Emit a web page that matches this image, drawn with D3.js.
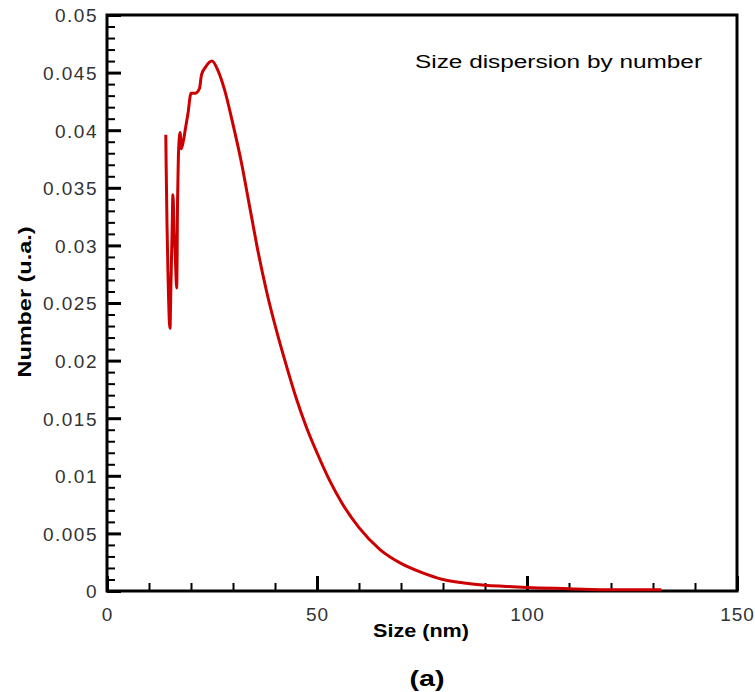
<!DOCTYPE html>
<html>
<head>
<meta charset="utf-8">
<script src="https://cdn.jsdelivr.net/npm/d3@7"></script>
<style>
  body { margin: 0; background: #fff; }
  svg text { font-family: Arial, "Liberation Sans", sans-serif; }
</style>
</head>
<body>
<svg id="chart" width="755" height="692"></svg>
<script>
// values
const sizes = [14.0, 14.1, 14.3, 14.5, 15.0, 15.2, 15.5, 15.7, 16.0, 16.2, 16.6, 16.8, 17.0, 17.4,
  17.7, 18.2, 18.7, 19.3, 20.0, 21.0, 22.0, 22.5, 23.5, 25.0, 26.4, 28.0, 30.0, 32.0, 34.0, 36.0,
  38.0, 40.5, 43.0, 45.0, 47.5, 50.0, 53.0, 56.0, 60.0, 65.0, 70.0, 75.0, 80.0, 85.0, 90.0, 95.0,
  100.0, 110.0, 120.0, 132.0];
const numbers = [0.0396, 0.0365, 0.0316, 0.0279, 0.0228, 0.0261, 0.0313, 0.0344, 0.0309, 0.0296,
  0.0263, 0.0339, 0.0378, 0.0398, 0.0384, 0.0391, 0.0402, 0.0415, 0.0432, 0.0432, 0.0436, 0.0448,
  0.0455, 0.0460, 0.0452, 0.0435, 0.0405, 0.0372, 0.0333, 0.0294, 0.0260, 0.0224, 0.0192, 0.0168,
  0.0142, 0.0120, 0.0096, 0.0076, 0.0055, 0.0036, 0.0024, 0.0016, 0.0010, 0.0007, 0.0005, 0.0004,
  0.0003, 0.0002, 0.0001, 0.0001];

const xMajor = [0, 50, 100, 150];
const xLabels = ["0", "50", "100", "150"];
const yMajor = [0, 0.005, 0.01, 0.015, 0.02, 0.025, 0.03, 0.035, 0.04, 0.045, 0.05];
const yLabels = ["0", "0.005", "0.01", "0.015", "0.02", "0.025", "0.03", "0.035", "0.04", "0.045", "0.05"];

const margin = {top: 15, right: 18, bottom: 101, left: 107};
const W = 755, H = 692;
const width = W - margin.left - margin.right,
      height = H - margin.top - margin.bottom;

const svg = d3.select("#chart");
const g = svg.append("g").attr("transform", `translate(${margin.left},${margin.top})`);

const x = d3.scaleLinear().domain([0, 150]).range([0, width]);
const y = d3.scaleLinear().domain([0, 0.05]).range([height, 0]);

// minor ticks
const xMinor = d3.range(0, 151, 10).filter(v => v % 50 !== 0);
const yMinor = d3.range(0, 51, 1).map(v => v / 1000).filter((v, i) => i % 5 !== 0);

function styleAxis(sel, w) {
  sel.select(".domain").remove();
  sel.selectAll(".tick line").attr("stroke", "#000").attr("stroke-width", w);
}

g.append("g").attr("transform", `translate(0,${height})`)
  .call(d3.axisBottom(x).tickValues(xMinor).tickSize(-8).tickFormat(""))
  .call(s => styleAxis(s, 2));
g.append("g")
  .call(d3.axisLeft(y).tickValues(yMinor).tickSize(-8).tickFormat(""))
  .call(s => styleAxis(s, 2));

g.append("g").attr("transform", `translate(0,${height})`)
  .call(d3.axisBottom(x).tickValues(xMajor).tickSize(-15).tickPadding(0)
    .tickFormat((d, i) => xLabels[i]))
  .call(s => styleAxis(s, 3))
  .call(s => s.selectAll("text")
    .attr("y", 30).attr("dy", 0)
    .attr("fill", "#333").style("font-size", "19px").style("letter-spacing", "1px"));

g.append("g")
  .call(d3.axisLeft(y).tickValues(yMajor).tickSize(-14).tickPadding(0)
    .tickFormat((d, i) => yLabels[i]))
  .call(s => styleAxis(s, 3))
  .call(s => s.selectAll("text")
    .attr("x", -9).attr("dy", "0.36em")
    .attr("fill", "#333").style("font-size", "19px").style("letter-spacing", "1.5px"));

// frame
g.append("rect").attr("x", 0).attr("y", 0).attr("width", width).attr("height", height)
  .attr("fill", "none").attr("stroke", "#000").attr("stroke-width", 3);

// curve
const line = d3.line().x((d, i) => x(sizes[i])).y(d => y(d)).curve(d3.curveMonotoneX);
g.append("path").datum(numbers)
  .attr("d", line)
  .attr("fill", "none")
  .attr("stroke", "#cc0000")
  .attr("stroke-width", 3)
  .attr("stroke-linejoin", "round");

// texts
g.append("text")
  .attr("x", 308).attr("y", 53)
  .attr("textLength", 287).attr("lengthAdjust", "spacingAndGlyphs")
  .style("font-size", "18px").attr("fill", "#000")
  .text("Size dispersion by number");

svg.append("text")
  .attr("x", 421).attr("y", 637)
  .attr("text-anchor", "middle")
  .attr("textLength", 96).attr("lengthAdjust", "spacingAndGlyphs")
  .style("font-size", "18px").style("font-weight", "bold")
  .text("Size (nm)");

svg.append("text")
  .attr("transform", "translate(31,302) rotate(-90)")
  .attr("text-anchor", "middle")
  .attr("textLength", 151).attr("lengthAdjust", "spacingAndGlyphs")
  .style("font-size", "18px").style("font-weight", "bold")
  .text("Number (u.a.)");

svg.append("text")
  .attr("x", 427).attr("y", 686)
  .attr("text-anchor", "middle")
  .attr("textLength", 35).attr("lengthAdjust", "spacingAndGlyphs")
  .style("font-size", "22px").style("font-weight", "bold")
  .text("(a)");
</script>
</body>
</html>
